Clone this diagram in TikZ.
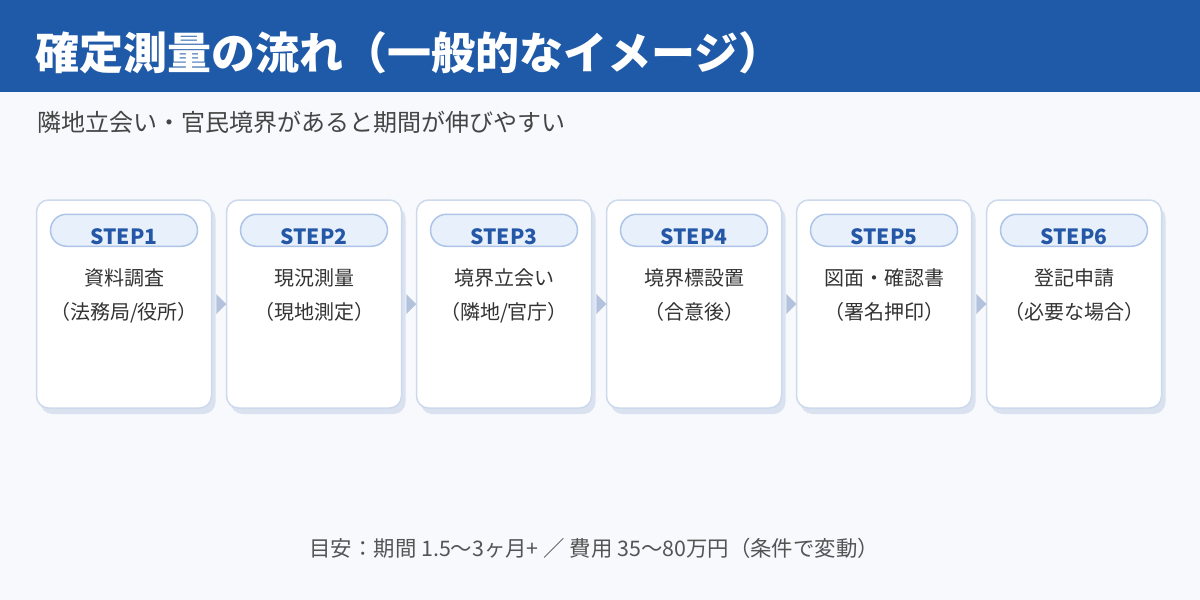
\documentclass[tikz,border=0pt]{standalone}
\usepackage{fontspec}
\setmainfont{Noto Sans CJK JP}
\usetikzlibrary{positioning,calc,shadows}

\definecolor{hdrblue}{HTML}{1F5AA8}
\definecolor{pagebg}{HTML}{F7F9FC}
\definecolor{cardline}{HTML}{CDD9EC}
\definecolor{cardshadow}{HTML}{DAE2F0}
\definecolor{pillfill}{HTML}{E8F0FC}
\definecolor{pillline}{HTML}{ADC4E8}
\definecolor{steptext}{HTML}{2458A6}
\definecolor{bodytext}{HTML}{333333}
\definecolor{arrowfill}{HTML}{B3C3DD}

\begin{document}
\begin{tikzpicture}[x=0.5pt,y=-0.5pt,node distance=95pt,on grid,
  card/.style={draw=cardline, line width=0.75pt, fill=white, rounded corners=6pt,
    minimum width=87.5pt, minimum height=104pt, inner sep=0pt,
    drop shadow={shadow xshift=2pt, shadow yshift=-3pt, fill=cardshadow, opacity=1}},
  pill/.style={draw=pillline, line width=0.75pt, fill=pillfill, rounded corners=8pt,
    minimum width=73.5pt, minimum height=16pt, inner sep=0pt, text height=14pt, text depth=0pt,
    text=steptext, font=\bfseries\fontsize{10.5}{12}\selectfont},
  body/.style={align=center, anchor=base, text=bodytext, font=\fontsize{10}{17}\selectfont},
  tri/.style={fill=arrowfill}]
  % page and header
  \fill[pagebg] (0,0) rectangle (1200,600);
  \fill[hdrblue] (0,0) rectangle (1200,92);
  \node[anchor=base west, inner sep=0pt, text=white, font=\bfseries\fontsize{22}{26}\selectfont] (title) at (35,69) {確定測量の流れ（一般的なイメージ）};
  \node[anchor=base west, inner sep=0pt, text=black!73, font=\fontsize{12}{14}\selectfont] (sub) at (37,131) {隣地立会い・官民境界があると期間が伸びやすい};

  % cards
  \node[card] (c1) at (124,304) {};
  \node[card, right=of c1] (c2) {};
  \node[card, right=of c2] (c3) {};
  \node[card, right=of c3] (c4) {};
  \node[card, right=of c4] (c5) {};
  \node[card, right=of c5] (c6) {};

  \node[pill] (s1) at ($(c1.north)+(0,31)$) {STEP1};
  \node[pill] (s2) at ($(c2.north)+(0,31)$) {STEP2};
  \node[pill] (s3) at ($(c3.north)+(0,31)$) {STEP3};
  \node[pill] (s4) at ($(c4.north)+(0,31)$) {STEP4};
  \node[pill] (s5) at ($(c5.north)+(0,31)$) {STEP5};
  \node[pill] (s6) at ($(c6.north)+(0,31)$) {STEP6};

  \node[body] (t1) at ($(c1.north)+(0,120)$) {資料調査\\（法務局/役所）};
  \node[body] (t2) at ($(c2.north)+(0,120)$) {現況測量\\（現地測定）};
  \node[body] (t3) at ($(c3.north)+(0,120)$) {境界立会い\\（隣地/官庁）};
  \node[body] (t4) at ($(c4.north)+(0,120)$) {境界標設置\\（合意後）};
  \node[body] (t5) at ($(c5.north)+(0,120)$) {図面・確認書\\（署名押印）};
  \node[body] (t6) at ($(c6.north)+(0,120)$) {登記申請\\（必要な場合）};

  % arrows between cards
  \fill[tri] ($(c1.east)+(4,-10)$) -- ++(10,10) -- ++(-10,10) -- cycle;
  \fill[tri] ($(c2.east)+(4,-10)$) -- ++(10,10) -- ++(-10,10) -- cycle;
  \fill[tri] ($(c3.east)+(4,-10)$) -- ++(10,10) -- ++(-10,10) -- cycle;
  \fill[tri] ($(c4.east)+(4,-10)$) -- ++(10,10) -- ++(-10,10) -- cycle;
  \fill[tri] ($(c5.east)+(4,-10)$) -- ++(10,10) -- ++(-10,10) -- cycle;

  \node[anchor=base west, inner sep=0pt, text=black!67, font=\fontsize{10.7}{12}\selectfont] (foot) at (309,556) {目安：期間 1.5〜3ヶ月+ ／ 費用 35〜80万円（条件で変動）};
  \useasboundingbox (0,0) rectangle (1200,600);
\end{tikzpicture}
\end{document}
